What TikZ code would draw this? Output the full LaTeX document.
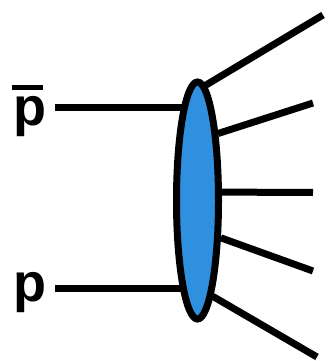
\documentclass[tikz,border=0pt]{standalone}
\usepackage{fontspec}
\setmainfont{Liberation Sans}
\usetikzlibrary{shapes.geometric,backgrounds}
\definecolor{blobblue}{RGB}{46,144,222}
\tikzset{
  leg/.style={line width=7pt},
  lab/.style={anchor=base west,inner sep=0pt,font=\bfseries\fontsize{54}{60}\selectfont},
  blobstyle/.style={ellipse,draw=black,fill=blobblue,line width=7pt,inner sep=0pt,minimum width=42pt,minimum height=237pt}
}
\begin{document}
\begin{tikzpicture}[x=1pt,y=-1pt]
\useasboundingbox (0,0) rectangle (328,361);
\node[blobstyle] (blob) at (197.5,200.5) {};
\node[lab] (pbar) at (13,125) {\makebox[0pt][l]{\hspace{-1pt}\rule[35pt]{31pt}{5pt}}p};
\node[lab] (p) at (13,301) {p};
\coordinate (ina) at (55,107);
\coordinate (inb) at (55,288);
\coordinate (o1) at (323,15);
\coordinate (o2) at (313,103);
\coordinate (o3) at (313,192.5);
\coordinate (o4) at (313,271);
\coordinate (o5) at (317,357);
\begin{scope}[on background layer]
\draw[leg] (ina) -- (ina -| blob.center);
\draw[leg] (inb) -- (inb -| blob.center);
\draw[leg] (blob.86) -- (o1);
\draw[leg] (blob.73) -- (o2);
\draw[leg] (blob.19.6) -- (o3);
\draw[leg] (blob.-58) -- (o4);
\draw[leg] (blob.-81.7) -- (o5);
\end{scope}
\end{tikzpicture}
\end{document}
